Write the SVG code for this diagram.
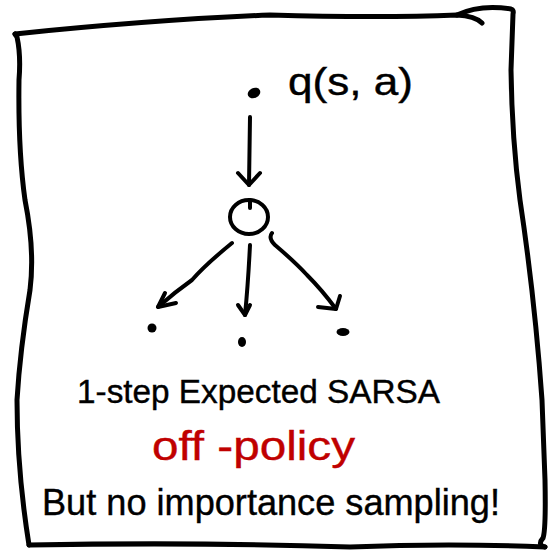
<svg xmlns="http://www.w3.org/2000/svg" width="550" height="555" viewBox="0 0 550 555">
<style>
.ink{fill:none;stroke:#000;stroke-linecap:round;stroke-linejoin:round}
.frame{stroke-width:5}
.edge{stroke-width:4}
.dot{fill:#000}
.hand{font-family:"Liberation Sans","DejaVu Sans",sans-serif;fill:#000;stroke:#000;stroke-width:0.4}
.red{fill:#c00000;stroke:#c00000}
</style>
<rect width="550" height="555" fill="#fff"/>
<g id="frame" class="ink frame">
<path d="M15,34 Q150,20 270,15 Q380,18 457,15 Q475,16 482,23"/>
<path d="M457,15 Q480,4 511,9 Q514,10 513,14 L511,70 Q512,140 520,200 Q535,300 542,400 L545,480 Q546,530 543,538 Q537,545 545,547"/>
<path d="M545,547 Q450,543 350,547 Q200,542 29,545"/>
<path d="M29,545 Q17,470 17,400 Q20,350 30,290 Q35,250 25,200 Q18,150 19,80 Q21,55 17,37 L15,34"/>
</g>
<g id="node-root">
<ellipse class="dot" cx="254" cy="93" rx="6.5" ry="5" transform="rotate(-25 254 93)"/>
<text class="hand" x="288" y="95" font-size="38" textLength="125" lengthAdjust="spacingAndGlyphs">q(s, a)</text>
</g>
<g id="node-chance">
<ellipse class="ink edge" cx="249" cy="217" rx="19" ry="17"/>
<path class="ink edge" d="M250,200 L250,208"/>
</g>
<g id="node-leaf1"><ellipse class="dot" cx="152" cy="328" rx="4.5" ry="4.5"/></g>
<g id="node-leaf2"><ellipse class="dot" cx="242" cy="342" rx="4" ry="5"/></g>
<g id="node-leaf3"><ellipse class="dot" cx="343" cy="332" rx="6.5" ry="4"/></g>
<g id="connectors" class="ink edge">
<path d="M250,117 L249,185"/>
<path d="M238,173 L249,185 L260,173"/>
<path d="M232,243 Q205,265 192,280 Q175,292 158,307"/>
<path d="M165,293 L158,307 L176,303"/>
<path d="M250,245 Q248,285 245,315"/>
<path d="M238,305 L245,315 L250,305"/>
<path d="M272,233 Q268,238 275,245 Q295,262 307,275 Q322,290 336,309"/>
<path d="M318,307 L336,309 L340,296"/>
</g>
<g id="labels">
<text class="hand" x="77" y="403" font-size="33" textLength="363" lengthAdjust="spacingAndGlyphs">1-step Expected SARSA</text>
<text class="hand red" x="152" y="460" font-size="40" textLength="203" lengthAdjust="spacingAndGlyphs">off -policy</text>
<text class="hand" x="42" y="515" font-size="36" textLength="458" lengthAdjust="spacingAndGlyphs">But no importance sampling!</text>
</g>
</svg>
